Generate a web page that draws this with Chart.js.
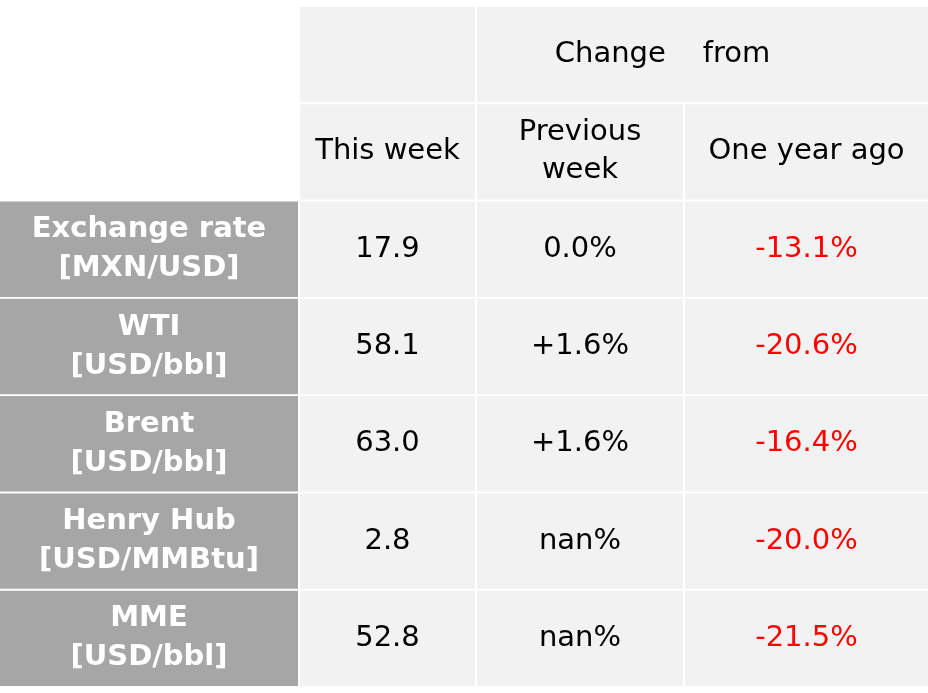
<!DOCTYPE html>
<html lang="en">
<head>
<meta charset="UTF-8" />
<title>Weekly prices</title>
<script src="https://cdn.jsdelivr.net/npm/chart.js"></script>
<style>
  body { margin: 0; background: #fff; }
</style>
</head>
<body>
<canvas id="tbl" width="928" height="693"></canvas>
<script>
  // table content
  const rows = ['h1', 'h2', 'Exchange rate', 'WTI', 'Brent', 'Henry Hub', 'MME'];
  const rowLabels = [
    ['Exchange rate', '[MXN/USD]'],
    ['WTI', '[USD/bbl]'],
    ['Brent', '[USD/bbl]'],
    ['Henry Hub', '[USD/MMBtu]'],
    ['MME', '[USD/bbl]']
  ];
  const thisWeek = ['17.9', '58.1', '63.0', '2.8', '52.8'];
  const prevWeek = ['0.0%', '+1.6%', '+1.6%', 'nan%', 'nan%'];
  const yearAgo = ['-13.1%', '-20.6%', '-16.4%', '-20.0%', '-21.5%'];
  const headers = ['This week', ['Previous', 'week'], 'One year ago'];
  const spanHeader = 'Change    from';

  // column edges (layout)
  const cols = [[0, 298], [300, 475], [477, 683], [685, 928]];
  const GREY = '#a6a6a6', LIGHT = '#f2f2f2';

  const col0 = [null, null, ...rowLabels.map(() => cols[0])];
  const col1 = [cols[1], cols[1], ...thisWeek.map(() => cols[1])];
  const col2 = [null, cols[2], ...prevWeek.map(() => cols[2])];
  const col3 = [null, cols[3], ...yearAgo.map(() => cols[3])];
  const span = [[cols[2][0], cols[3][1]], null, null, null, null, null, null];

  const textPlugin = {
    id: 'cellText',
    afterDatasetsDraw(chart) {
      const ctx = chart.ctx;
      ctx.save();
      ctx.textAlign = 'center';
      ctx.textBaseline = 'middle';
      const center = (ds, r) => {
        const el = chart.getDatasetMeta(ds).data[r];
        return { x: (el.x + el.base) / 2, y: el.y };
      };
      const put = (lines, p, font, color, lh) => {
        ctx.font = font; ctx.fillStyle = color;
        const arr = Array.isArray(lines) ? lines : [lines];
        arr.forEach((t, i) => ctx.fillText(t, p.x, p.y + (i - (arr.length - 1) / 2) * lh));
      };
      const reg = '29px "DejaVu Sans"';
      // headers (span label sits a little left of centre)
      const sp = center(4, 0);
      put(spanHeader, { x: sp.x - 40, y: sp.y }, reg, '#000', 38);
      put(headers[0], center(1, 1), reg, '#000', 38);
      put(headers[1], center(2, 1), reg, '#000', 38);
      put(headers[2], center(3, 1), reg, '#000', 38);
      rowLabels.forEach((l, i) => {
        const r = i + 2;
        put(l, center(0, r), 'bold 29px "DejaVu Sans"', '#fff', 39);
        put(thisWeek[i], center(1, r), reg, '#000', 38);
        put(prevWeek[i], center(2, r), reg, '#000', 38);
        put(yearAgo[i], center(3, r), reg, '#ff0000', 38);
      });
      ctx.restore();
    }
  };

  new Chart(document.getElementById('tbl'), {
    type: 'bar',
    data: {
      labels: rows,
      datasets: [
        { data: col0, backgroundColor: GREY },
        { data: col1, backgroundColor: LIGHT },
        { data: col2, backgroundColor: LIGHT },
        { data: col3, backgroundColor: LIGHT },
        { data: span, backgroundColor: LIGHT }
      ]
    },
    options: {
      indexAxis: 'y',
      responsive: false,
      animation: false,
      layout: { padding: { top: 6, bottom: 6, left: 0, right: 0 } },
      datasets: { bar: { grouped: false, categoryPercentage: 1, barPercentage: 0.98, borderSkipped: false } },
      scales: {
        x: { type: 'linear', min: 0, max: 928, display: false },
        y: { display: false }
      },
      plugins: { legend: { display: false }, tooltip: { enabled: false } }
    },
    plugins: [textPlugin]
  });
</script>
</body>
</html>
